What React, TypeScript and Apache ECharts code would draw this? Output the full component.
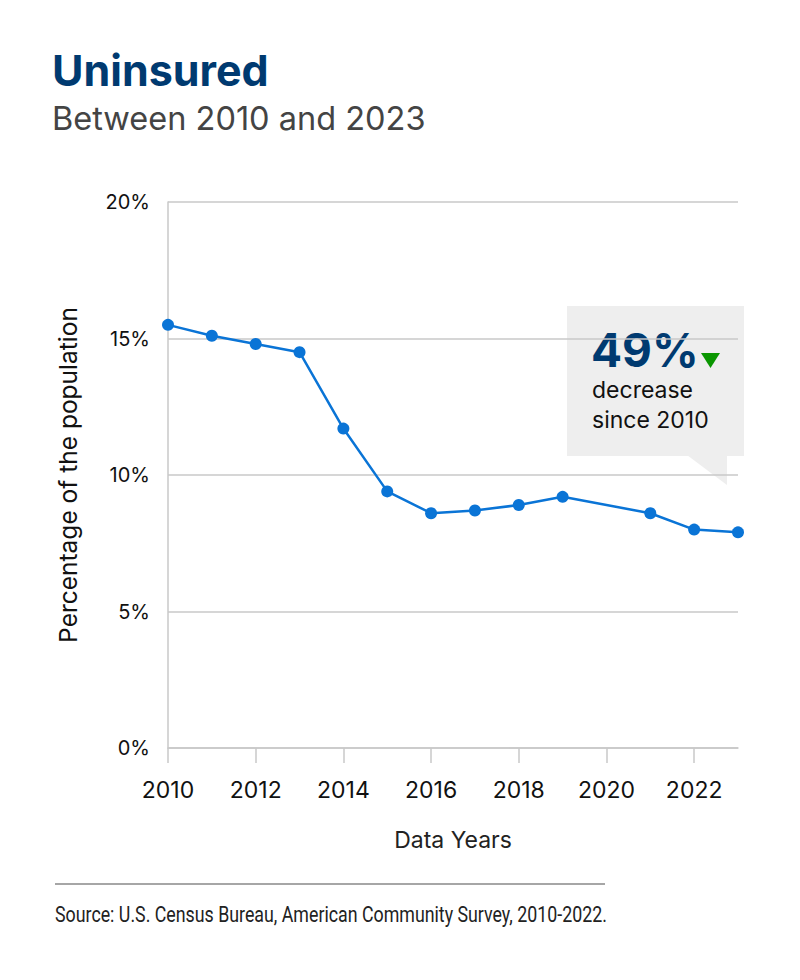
import React, { useEffect, useRef } from "react";
import * as echarts from "echarts";

const years = ["2010","2011","2012","2013","2014","2015","2016","2017","2018","2019","2020","2021","2022","2023"];
const uninsured: (number | null)[] = [15.5, 15.1, 14.8, 14.5, 11.7, 9.4, 8.6, 8.7, 8.9, 9.2, null, 8.6, 8.0, 7.9];
const yTicks = [0, 5, 10, 15, 20];

const FONT = "Inter, 'Noto Sans', sans-serif";
const NAVY = "#003A70";

export default function App() {
  const ref = useRef<HTMLDivElement>(null);
  useEffect(() => {
    if (!ref.current) return;
    const chart = echarts.init(ref.current, null, { renderer: "svg" });
    chart.setOption({
      animation: false,
      backgroundColor: "#ffffff",
      grid: { left: 168, right: 62, top: 202, bottom: 232 },
      xAxis: {
        type: "category",
        data: years,
        boundaryGap: false,
        name: "Data Years",
        nameLocation: "middle",
        nameGap: 80,
        nameTextStyle: { fontFamily: FONT, fontSize: 23, color: "#222" },
        axisLine: { lineStyle: { color: "#c8c8c8", width: 1.5 } },
        axisTick: { interval: 1, length: 15, lineStyle: { color: "#c8c8c8", width: 1.5 } },
        axisLabel: { interval: 1, margin: 30, fontFamily: FONT, fontSize: 23, color: "#111" },
      },
      yAxis: {
        type: "value",
        min: yTicks[0],
        max: yTicks[yTicks.length - 1],
        interval: 5,
        name: "Percentage of the population",
        nameLocation: "middle",
        nameGap: 88,
        nameTextStyle: { fontFamily: FONT, fontSize: 24.5, color: "#111" },
        axisLine: { show: true, lineStyle: { color: "#c8c8c8", width: 1.5 } },
        axisTick: { show: false },
        splitLine: { lineStyle: { color: "#c8c8c8", width: 1.5 } },
        axisLabel: { margin: 18, fontFamily: FONT, fontSize: 20, color: "#111", formatter: "{value}%" },
      },
      series: [
        {
          type: "line",
          data: uninsured,
          connectNulls: true,
          symbol: "circle",
          symbolSize: 12,
          lineStyle: { color: "#0A74D6", width: 2.5 },
          itemStyle: { color: "#0A74D6" },
        },
      ],
      graphic: [
        { type: "text", left: 52, top: 48, style: { text: "Uninsured", fontFamily: FONT, fontWeight: "bold", fontSize: 43, fill: NAVY } },
        { type: "text", left: 52, top: 102, style: { text: "Between 2010 and 2023", fontFamily: FONT, fontSize: 32.5, fill: "#444" } },
        { type: "rect", shape: { x: 567, y: 306, width: 177, height: 150 }, style: { fill: "#EEEEEE" } },
        { type: "polygon", shape: { points: [[687, 455], [727, 455], [727, 485]] }, style: { fill: "#EEEEEE" } },
        { type: "text", x: 591, y: 350, style: { text: "49%", fontFamily: FONT, fontWeight: "bold", fontSize: 46, fill: NAVY, verticalAlign: "middle" } },
        { type: "polygon", shape: { points: [[701, 353], [720, 353], [710.5, 368]] }, style: { fill: "#0A9600" } },
        { type: "text", x: 592, y: 390, style: { text: "decrease", fontFamily: FONT, fontSize: 23, fill: "#111", verticalAlign: "middle" } },
        { type: "text", x: 592, y: 420, style: { text: "since 2010", fontFamily: FONT, fontSize: 23, fill: "#111", verticalAlign: "middle" } },
        { type: "line", shape: { x1: 55, y1: 884, x2: 605, y2: 884 }, style: { stroke: "#888", lineWidth: 1.5 } },
        { type: "text", x: 55, y: 914, scaleX: 0.809, style: { text: "Source: U.S. Census Bureau, American Community Survey, 2010-2022.", fontFamily: "Roboto, sans-serif", fontSize: 22, fill: "#222", verticalAlign: "middle" } },
      ],
    });
    return () => chart.dispose();
  }, []);
  return <div ref={ref} style={{ width: 800, height: 980, margin: -8 }} />;
}
